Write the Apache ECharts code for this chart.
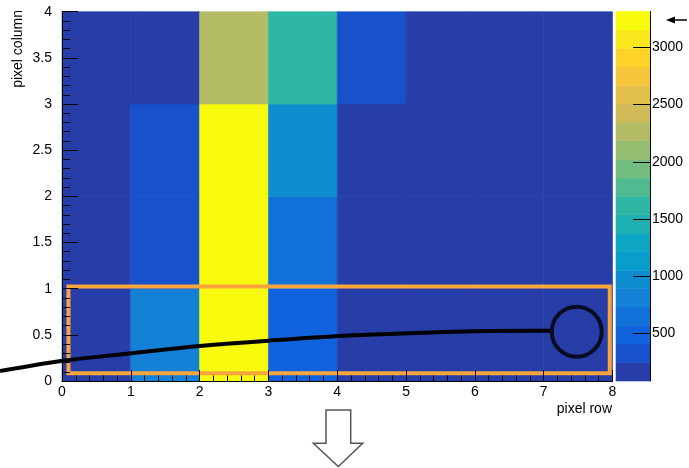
<!DOCTYPE html>
<html>
<head>
<meta charset="utf-8">
<script src="https://cdn.jsdelivr.net/npm/echarts@6/dist/echarts.min.js"></script>
<style>
  html, body { margin: 0; padding: 0; background: #fff; }
  #chart { width: 689px; height: 468px; }
</style>
</head>
<body>
<div id="chart"></div>
<script>
// Pixel hit map: 8 pixel rows (x) by 4 pixel columns (y), counts per pixel
const pixelRows = [0, 1, 2, 3, 4, 5, 6, 7];
const countsColumn0 = [150, 810, 3270, 490, 140, 120, 100, 110];
const countsColumn1 = [130, 330, 3313, 650, 120, 100, 95, 90];
const countsColumn2 = [140, 340, 3290, 970, 130, 110, 100, 85];
const countsColumn3 = [120, 180, 2260, 1620, 330, 140, 110, 100];
const countsByColumn = [countsColumn0, countsColumn1, countsColumn2, countsColumn3];

// Colour scale
const paletteMin = 85;
const paletteMax = 3313;
const paletteLevels = 20;
const paletteTicks = [500, 1000, 1500, 2000, 2500, 3000];

// Particle track and region of interest (data coordinates)
const trackPoints = [[-0.9, 0.108], [0.02, 0.22], [1.01, 0.30], [2.0, 0.379], [3.0, 0.437], [4.33, 0.498], [6.0, 0.54], [7.09, 0.545]];
const trackEnd = [[7.48, 0.534]];
const roiBox = [[0.094, 0.083, 7.96, 1.024]];

const FONT = '"Liberation Sans", Arial, Helvetica, sans-serif';

// Bird palette (gradient stops)
const birdStops = [0, 0.125, 0.25, 0.375, 0.5, 0.625, 0.75, 0.875, 1];
const birdR = [0.2082, 0.0592, 0.0780, 0.0232, 0.1802, 0.5301, 0.8186, 0.9956, 0.9764];
const birdG = [0.1664, 0.3599, 0.5041, 0.6419, 0.7178, 0.7492, 0.7328, 0.7862, 0.9832];
const birdB = [0.5293, 0.8684, 0.8385, 0.7914, 0.6425, 0.4662, 0.3499, 0.1968, 0.0539];

function birdColor(p) {
  let s = 1;
  while (s < birdStops.length - 1 && p > birdStops[s]) s++;
  const f = (p - birdStops[s - 1]) / (birdStops[s] - birdStops[s - 1]);
  const c = arr => Math.round(255 * (arr[s - 1] + f * (arr[s] - arr[s - 1])));
  return 'rgb(' + c(birdR) + ',' + c(birdG) + ',' + c(birdB) + ')';
}

const levelWidth = (paletteMax - paletteMin) / paletteLevels;
const pieces = [];
const paletteBands = [];
for (let k = 0; k < paletteLevels; k++) {
  const idx = Math.floor((k + 0.99) * 255 / paletteLevels);
  const color = birdColor(Math.min(1, idx / 254));
  const lo = paletteMin + k * levelWidth;
  const hi = paletteMin + (k + 1) * levelWidth;
  const piece = { gte: lo, color: color };
  if (k < paletteLevels - 1) piece.lt = hi; else piece.lte = hi;
  pieces.push(piece);
  paletteBands.push([lo, hi, (lo + hi) / 2]);
}

const cells = [];
countsByColumn.forEach((row, col) => {
  row.forEach((v, i) => cells.push([pixelRows[i], col, v]));
});

function cellItem(params, api) {
  const x = api.value(0), y = api.value(1);
  const a = api.coord([x, y + 1]);
  const b = api.coord([x + 1, y]);
  const fill = api.visual('color');
  return {
    type: 'rect',
    shape: { x: a[0], y: a[1], width: b[0] - a[0], height: b[1] - a[1] },
    style: { fill: fill, stroke: fill, lineWidth: 0.6 }
  };
}

function bandItem(params, api) {
  const a = api.coord([0, api.value(1)]);
  const b = api.coord([1, api.value(0)]);
  const fill = api.visual('color');
  return {
    type: 'rect',
    shape: { x: a[0], y: a[1], width: b[0] - a[0], height: b[1] - a[1] },
    style: { fill: fill, stroke: fill, lineWidth: 0.6 }
  };
}

function boxItem(params, api) {
  const a = api.coord([api.value(0), api.value(3)]);
  const b = api.coord([api.value(2), api.value(1)]);
  return {
    type: 'rect',
    shape: { x: a[0], y: a[1], width: b[0] - a[0], height: b[1] - a[1] },
    style: { fill: 'none', stroke: '#f7a53c', lineWidth: 4 }
  };
}

// The whole track is one smooth polyline through the library's coordinate mapping
function trackItem(params, api) {
  const pts = trackPoints.map(p => api.coord(p));
  return {
    type: 'polyline',
    shape: { points: pts, smooth: 0.35 },
    style: { fill: 'none', stroke: '#000', lineWidth: 4 }
  };
}

const tickLabel = { fontSize: 14, color: '#000', fontFamily: FONT };

const chart = echarts.init(document.getElementById('chart'), null, { renderer: 'canvas' });
chart.setOption({
  animation: false,
  backgroundColor: '#fff',
  grid: [
    { left: 62, right: 76.5, top: 11.7, bottom: 87 },
    { left: 616, right: 39, top: 11.5, bottom: 87 }
  ],
  xAxis: [
    {
      type: 'value', gridIndex: 0, min: 0, max: 8, interval: 1, z: 10,
      axisLine: { show: true, onZero: false, lineStyle: { color: '#000', width: 1 } },
      axisTick: { show: true, inside: true, length: 11, lineStyle: { color: '#000', width: 1 } },
      minorTick: { show: true, splitNumber: 5, length: 5.5, lineStyle: { color: '#000', width: 1 } },
      axisLabel: Object.assign({ margin: 4 }, tickLabel),
      splitLine: { show: false }
    },
    { type: 'value', gridIndex: 1, min: 0, max: 1, show: false }
  ],
  yAxis: [
    {
      type: 'value', gridIndex: 0, min: 0, max: 4, interval: 0.5, z: 10,
      axisLine: { show: true, onZero: false, lineStyle: { color: '#000', width: 1 } },
      axisTick: { show: true, inside: true, length: 16, lineStyle: { color: '#000', width: 1 } },
      minorTick: { show: true, splitNumber: 5, length: 8, lineStyle: { color: '#000', width: 1 } },
      axisLabel: Object.assign({ margin: 10 }, tickLabel),
      splitLine: { show: false }
    },
    {
      type: 'value', gridIndex: 1, min: paletteMin, max: paletteMax, position: 'right', z: 10,
      axisLine: { show: true, onZero: false, lineStyle: { color: '#000', width: 1 } },
      axisTick: { show: true, inside: true, length: 17, customValues: paletteTicks, lineStyle: { color: '#000', width: 1 } },
      axisLabel: Object.assign({ margin: 2, customValues: paletteTicks, formatter: v => String(v) }, tickLabel),
      splitLine: { show: false }
    }
  ],
  visualMap: {
    type: 'piecewise', show: false, dimension: 2, seriesIndex: [0, 1], pieces: pieces
  },
  series: [
    {
      type: 'custom', name: 'counts', xAxisIndex: 0, yAxisIndex: 0, z: 1,
      renderItem: cellItem, data: cells, clip: false
    },
    {
      type: 'custom', name: 'palette', xAxisIndex: 1, yAxisIndex: 1, z: 1,
      renderItem: bandItem, data: paletteBands, clip: false
    },
    {
      type: 'custom', name: 'roi', xAxisIndex: 0, yAxisIndex: 0, z: 3,
      renderItem: boxItem, data: roiBox, clip: false, silent: true
    },
    {
      type: 'custom', name: 'track', xAxisIndex: 0, yAxisIndex: 0, z: 4,
      renderItem: trackItem, data: [trackPoints[0]], clip: false, silent: true
    },
    {
      type: 'scatter', name: 'end', xAxisIndex: 0, yAxisIndex: 0, z: 4,
      data: trackEnd, symbol: 'circle', symbolSize: 50, clip: false,
      itemStyle: { color: 'rgba(0,0,0,0)', borderColor: '#000', borderWidth: 4 }
    }
  ],
  graphic: [
    {
      type: 'text', x: 18, y: 10, rotation: Math.PI / 2,
      style: { text: 'pixel column', fontSize: 14, fontFamily: FONT, fill: '#000', align: 'right', verticalAlign: 'middle' }
    },
    {
      type: 'text', x: 612, y: 409,
      style: { text: 'pixel row', fontSize: 14, fontFamily: FONT, fill: '#000', align: 'right', verticalAlign: 'middle' }
    },
    {
      type: 'line', shape: { x1: 672, y1: 20, x2: 687, y2: 20 },
      style: { stroke: '#000', lineWidth: 1.5 }
    },
    {
      type: 'polygon', shape: { points: [[666, 20], [675, 16.5], [675, 23.5]] },
      style: { fill: '#000' }
    },
    {
      type: 'polygon',
      shape: { points: [[326, 410], [350.7, 410], [350.7, 443.3], [362.7, 443.3], [338.3, 466.5], [313.3, 443.3], [326, 443.3]] },
      style: { fill: '#fff', stroke: '#555', lineWidth: 1.5 }
    }
  ]
});
</script>
</body>
</html>
